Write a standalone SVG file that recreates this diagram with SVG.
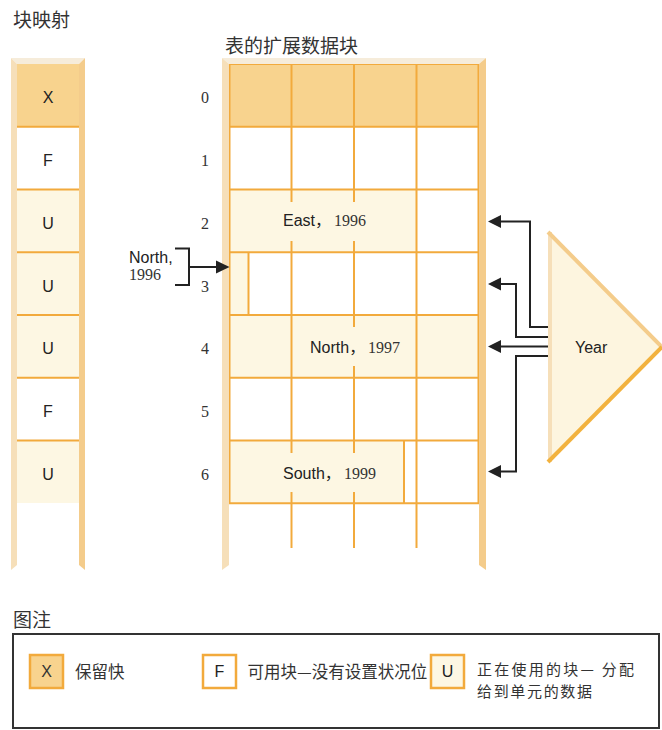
<svg xmlns="http://www.w3.org/2000/svg" width="662" height="730" viewBox="0 0 662 730">
<style>
.title{font-family:"Noto Sans CJK SC","Liberation Sans",sans-serif;font-size:19px;fill:#333}
.cjk{font-family:"Noto Sans CJK SC","Liberation Sans",sans-serif;font-size:16.5px;fill:#333}
.cjk2{font-family:"Noto Sans CJK SC","Liberation Sans",sans-serif;font-size:15px;fill:#333}
.sans{font-family:"Liberation Sans","Noto Sans CJK SC",sans-serif;font-size:16px;fill:#222}
.ser{font-family:"Liberation Serif",serif;font-size:16px;fill:#333}
.grid{stroke:#f2aa3c;stroke-width:2;fill:none}
.railL{fill:#f6dfb9}
.railR{fill:#f4cc8b}
.bevel{fill:#f6ecda}
.hdr{fill:#f8d38e}
.cream{fill:#fdf7e3}
.conn{stroke:#222;stroke-width:2;fill:none}
.ah{fill:#222}
.sw{stroke:#f2aa3c;stroke-width:2.5}
</style>
<text class="title" x="13" y="27">块映射</text>
<text class="title" x="225" y="53">表的扩展数据块</text>
<text class="title" x="13" y="627">图注</text>

<g id="block-map">
  <rect x="17" y="64" width="62" height="63" class="hdr"/>
  <rect x="17" y="189.5" width="62" height="188" class="cream"/>
  <rect x="17" y="440.5" width="62" height="62.5" class="cream"/>
  <g class="grid">
    <line x1="17" y1="126.75" x2="79" y2="126.75"/>
    <line x1="17" y1="189.5" x2="79" y2="189.5"/>
    <line x1="17" y1="252.25" x2="79" y2="252.25"/>
    <line x1="17" y1="315" x2="79" y2="315"/>
    <line x1="17" y1="377.75" x2="79" y2="377.75"/>
    <line x1="17" y1="440.5" x2="79" y2="440.5"/>
  </g>
  <polygon class="bevel" points="11,58 85,58 79,64 17,64"/>
  <polygon class="railL" points="11,58 17,64 17,565 11,570"/>
  <polygon class="railR" points="85,58 79,64 79,565 85,570"/>
  <g class="sans" text-anchor="middle">
    <text x="48" y="103.4">X</text>
    <text x="48" y="166.1">F</text>
    <text x="48" y="228.9">U</text>
    <text x="48" y="291.6">U</text>
    <text x="48" y="354.4">U</text>
    <text x="48" y="417.1">F</text>
    <text x="48" y="479.9">U</text>
  </g>
</g>

<g id="row-numbers" class="ser" text-anchor="middle">
  <text x="205" y="103.4">0</text>
  <text x="205" y="166.1">1</text>
  <text x="205" y="228.9">2</text>
  <text x="205" y="291.6">3</text>
  <text x="205" y="354.4">4</text>
  <text x="205" y="417.1">5</text>
  <text x="205" y="479.9">6</text>
</g>

<g id="extent-table">
  <rect x="229" y="64" width="250" height="62.75" class="hdr"/>
  <rect x="229" y="189.5" width="187.5" height="62.75" class="cream"/>
  <rect x="229" y="252.25" width="19.5" height="62.75" class="cream"/>
  <rect x="229" y="315" width="250" height="62.75" class="cream"/>
  <rect x="229" y="440.5" width="175" height="62.75" class="cream"/>
  <g class="grid">
    <line x1="229" y1="64" x2="479" y2="64"/>
    <line x1="229" y1="126.75" x2="479" y2="126.75"/>
    <line x1="229" y1="189.5" x2="479" y2="189.5"/>
    <line x1="229" y1="252.25" x2="479" y2="252.25"/>
    <line x1="229" y1="315" x2="479" y2="315"/>
    <line x1="229" y1="377.75" x2="479" y2="377.75"/>
    <line x1="229" y1="440.5" x2="479" y2="440.5"/>
    <line x1="229" y1="503.25" x2="479" y2="503.25"/>
    <line x1="229.5" y1="64" x2="229.5" y2="503.25"/>
    <line x1="478.5" y1="64" x2="478.5" y2="503.25"/>
    <line x1="291.5" y1="64" x2="291.5" y2="202"/>
    <line x1="291.5" y1="241" x2="291.5" y2="453"/>
    <line x1="291.5" y1="492" x2="291.5" y2="548"/>
    <line x1="354" y1="64" x2="354" y2="202"/>
    <line x1="354" y1="241" x2="354" y2="327"/>
    <line x1="354" y1="366" x2="354" y2="453"/>
    <line x1="354" y1="492" x2="354" y2="548"/>
    <line x1="416.5" y1="64" x2="416.5" y2="548"/>
    <line x1="248.5" y1="252.25" x2="248.5" y2="315"/>
    <line x1="404" y1="440.5" x2="404" y2="503.25"/>
  </g>
  <polygon class="bevel" points="222,58 486,58 479,64 229,64"/>
  <polygon class="railL" points="222,58 229,64 229,565 222,570"/>
  <polygon class="railR" points="486,58 479,64 479,565 486,570"/>
  <text class="sans" x="283" y="226">East，</text>
  <text class="ser" x="334" y="226">1996</text>
  <text class="sans" x="310" y="353">North，</text>
  <text class="ser" x="368" y="353">1997</text>
  <text class="sans" x="283" y="479">South，</text>
  <text class="ser" x="344" y="479">1999</text>
</g>

<g id="north-1996">
  <text class="sans" x="129" y="263">North,</text>
  <text class="ser" x="129" y="280">1996</text>
</g>

<g id="year">
  <polygon points="548,232 662,347 548,462" fill="#fdf5df"/>
  <line x1="550" y1="232" x2="550" y2="462" stroke="#f6dfb9" stroke-width="4"/>
  <line x1="548" y1="232" x2="662" y2="347" stroke="#f4cc8b" stroke-width="4"/>
  <line x1="662" y1="347" x2="548" y2="462" stroke="#f2b23e" stroke-width="4"/>
  <text class="sans" x="575" y="353">Year</text>
</g>

<g id="connectors">
  <path class="conn" d="M175,248.5 H189 V285 H175"/>
  <path class="conn" d="M189,267 H218"/>
  <polygon class="ah" points="216,260.5 229.5,267 216,273.5"/>
  <path class="conn" d="M548,327 H530 V221.5 H499"/>
  <polygon class="ah" points="501,215 488,221.5 501,228"/>
  <path class="conn" d="M548,337 H516 V284 H499"/>
  <polygon class="ah" points="501,277.5 488,284 501,290.5"/>
  <path class="conn" d="M548,346.5 H499"/>
  <polygon class="ah" points="501,340 488,346.5 501,353"/>
  <path class="conn" d="M548,356 H516 V471.5 H499"/>
  <polygon class="ah" points="501,465 488,471.5 501,478"/>
</g>

<g id="legend">
  <rect x="13" y="634" width="646" height="94" fill="none" stroke="#333" stroke-width="2"/>
  <g id="legend-x">
    <rect x="30" y="655" width="33" height="33" class="sw" fill="#f8d38e"/>
    <text x="46.5" y="677" text-anchor="middle" style="font-family:'Liberation Sans Narrow','Liberation Sans',sans-serif;font-size:16px;fill:#333">X</text>
    <text class="cjk" x="75" y="678">保留快</text>
  </g>
  <g id="legend-f">
    <rect x="203" y="655" width="33" height="33" class="sw" fill="#fff"/>
    <text class="sans" x="219.5" y="677" text-anchor="middle">F</text>
    <text class="cjk" x="247.5" y="678">可用块—没有设置状况位</text>
  </g>
  <g id="legend-u">
    <rect x="431" y="655" width="33" height="33" class="sw" fill="#fdf7e3"/>
    <text class="sans" x="447.5" y="677" text-anchor="middle">U</text>
    <text class="cjk2"><tspan x="477" y="675" textLength="157" lengthAdjust="spacing">正在使用的块— 分配</tspan><tspan x="477" y="697" textLength="115" lengthAdjust="spacing">给到单元的数据</tspan></text>
  </g>
</g>
</svg>
